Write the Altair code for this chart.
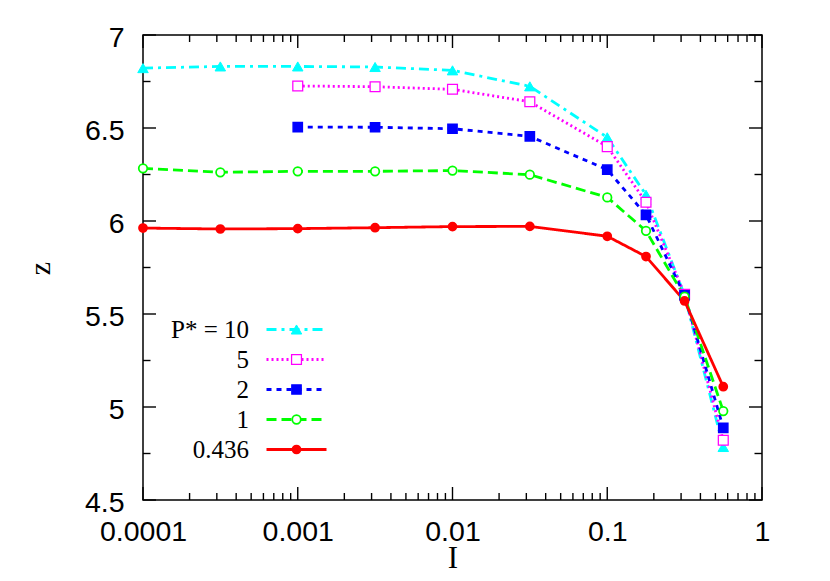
import altair as alt
import pandas as pd

# ---- data ----
I_vals = [0.0001, 0.000316, 0.001, 0.00316, 0.01, 0.0316, 0.1, 0.178, 0.316, 0.562]
z_p10 = [6.822, 6.831, 6.831, 6.828, 6.810, 6.724, 6.450, 6.141, 5.600, 4.785]
z_p5 = [None, None, 6.726, 6.722, 6.708, 6.641, 6.400, 6.101, 5.606, 4.821]
z_p2 = [None, None, 6.505, 6.504, 6.496, 6.455, 6.276, 6.033, 5.600, 4.888]
z_p1 = [6.283, 6.262, 6.267, 6.267, 6.271, 6.249, 6.127, 5.947, 5.593, 4.978]
z_p0436 = [5.962, 5.957, 5.959, 5.964, 5.970, 5.971, 5.918, 5.809, 5.570, 5.109]

series_names = ["10", "5", "2", "1", "0.436"]
series_values = [z_p10, z_p5, z_p2, z_p1, z_p0436]

x_major = [0.0001, 0.001, 0.01, 0.1, 1]
x_minor = [k * 10.0 ** e for e in range(-4, 0) for k in range(2, 10)]
y_major = [4.5, 5, 5.5, 6, 6.5, 7]
y_minor = [4.75, 5.25, 5.75, 6.25, 6.75]

colors = ["#00ffff", "#ff00ff", "#0000ff", "#00ff00", "#ff0000"]
dashes = [[10, 5, 3, 5], [2, 3], [5, 5], [10, 5], [1, 0]]
shapes = ["triangle-up", "square", "square", "circle", "circle"]
fills = ["#00ffff", "#ffffff", "#0000ff", "#ffffff", "#ff0000"]
sizes = [110, 60, 50, 55, 28]
marker_widths = [1, 2, 1, 3, 1]

rows = []
for name, vals in zip(series_names, series_values):
    for xv, zv in zip(I_vals, vals):
        if zv is not None:
            rows.append({"I": xv, "z": zv, "P": name})
df = pd.DataFrame(rows)

W, H = 619, 465
SANS = "Liberation Sans"
SERIF = "Liberation Serif"
MAJOR, MINOR = 13, 7


def xs():
    return alt.Scale(type="log", domain=[0.0001, 1], nice=False)


def ys():
    return alt.Scale(domain=[4.5, 7], nice=False, zero=False)


pdom = series_names
label_expr = "datum.label == '10' ? 'P* = 10' : datum.label"

leg_line = alt.Legend(
    orient="none", legendX=141, legendY=282, title=None,
    symbolType="M-3,0H3", symbolSize=400, symbolStrokeWidth=2.8,
    labelFont=SERIF, labelFontSize=25, labelColor="black",
    labelAlign="right", labelOffset={"expr": "-60"}, labelExpr=label_expr,
    rowPadding=4, padding=0, labelLimit=0,
)
leg_point = alt.Legend(
    orient="none", legendX=141, legendY=282, title=None,
    labelFont=SERIF, labelFontSize=25, labelOpacity=0,
    labelExpr=label_expr, rowPadding=4, padding=0, labelLimit=0,
)

lines = alt.Chart(df).mark_line(strokeWidth=2.8).encode(
    x=alt.X("I:Q", scale=xs(), axis=alt.Axis(
        orient="bottom", values=x_major, format="~g", ticks=False, tickSize=0,
        domain=False, grid=False, labelFont=SANS, labelFontSize=28.5,
        labelColor="black", labelPadding=17, labelFlush=False,
        title="I", titleFont=SERIF, titleFontSize=31, titleFontWeight="normal",
        titleColor="black", titleY=43, titleBaseline="top")),
    y=alt.Y("z:Q", scale=ys(), axis=alt.Axis(
        orient="left", values=y_major, format="~g", ticks=False, tickSize=0,
        domain=False, grid=False, labelFont=SANS, labelFontSize=28.5,
        labelColor="black", labelPadding=19, labelFlush=False, labelOffset=2.5,
        title="z", titleFont=SERIF, titleFontSize=30, titleFontWeight="normal",
        titleColor="black", titleX=-88, titleY=233)),
    stroke=alt.Stroke("P:N", scale=alt.Scale(domain=pdom, range=colors), legend=leg_line),
    strokeDash=alt.StrokeDash("P:N", scale=alt.Scale(domain=pdom, range=dashes), legend=leg_line),
    order=alt.Order("I:Q"),
)

points = alt.Chart(df).mark_point(filled=False, opacity=1).encode(
    x=alt.X("I:Q", scale=xs(), axis=None),
    y=alt.Y("z:Q", scale=ys(), axis=None),
    stroke=alt.Stroke("P:N", scale=alt.Scale(domain=pdom, range=colors), legend=leg_point),
    fill=alt.Fill("P:N", scale=alt.Scale(domain=pdom, range=fills), legend=leg_point),
    shape=alt.Shape("P:N", scale=alt.Scale(domain=pdom, range=shapes), legend=leg_point),
    size=alt.Size("P:N", scale=alt.Scale(domain=pdom, range=sizes), legend=leg_point),
    strokeWidth=alt.StrokeWidth("P:N", scale=alt.Scale(domain=pdom, range=marker_widths), legend=leg_point),
)


def x_tick_rules(values, length):
    d = pd.DataFrame({"I": values})
    base = alt.Chart(d).mark_rule(color="black", strokeWidth=1.4)
    xe = alt.X("I:Q", scale=xs(), axis=None)
    bottom = base.encode(x=xe, y=alt.value(H), y2=alt.value(H - length))
    top = base.encode(x=xe, y=alt.value(0), y2=alt.value(length))
    return [bottom, top]


def y_tick_rules(values, length):
    d = pd.DataFrame({"z": values})
    base = alt.Chart(d).mark_rule(color="black", strokeWidth=1.4)
    ye = alt.Y("z:Q", scale=ys(), axis=None)
    left = base.encode(y=ye, x=alt.value(0), x2=alt.value(length))
    right = base.encode(y=ye, x=alt.value(W), x2=alt.value(W - length))
    return [left, right]


tick_layers = (x_tick_rules(x_major, MAJOR) + x_tick_rules(x_minor, MINOR)
               + y_tick_rules(y_major, MAJOR) + y_tick_rules(y_minor, 7.5))

chart = alt.layer(*tick_layers, lines, points).resolve_scale(
    x="independent", y="independent"
).resolve_axis(
    x="independent", y="independent"
).resolve_legend(
    stroke="independent", strokeDash="independent", fill="independent",
    shape="independent", size="independent", strokeWidth="independent"
).properties(
    width=W, height=H,
    autosize=alt.AutoSizeParams(type="none"),
    padding={"left": 135, "top": 27, "right": 58, "bottom": 73},
    background="white",
).configure_view(stroke="black", strokeWidth=1.5)

chart.save("out.html", embed_options={"renderer": "svg", "actions": False})
